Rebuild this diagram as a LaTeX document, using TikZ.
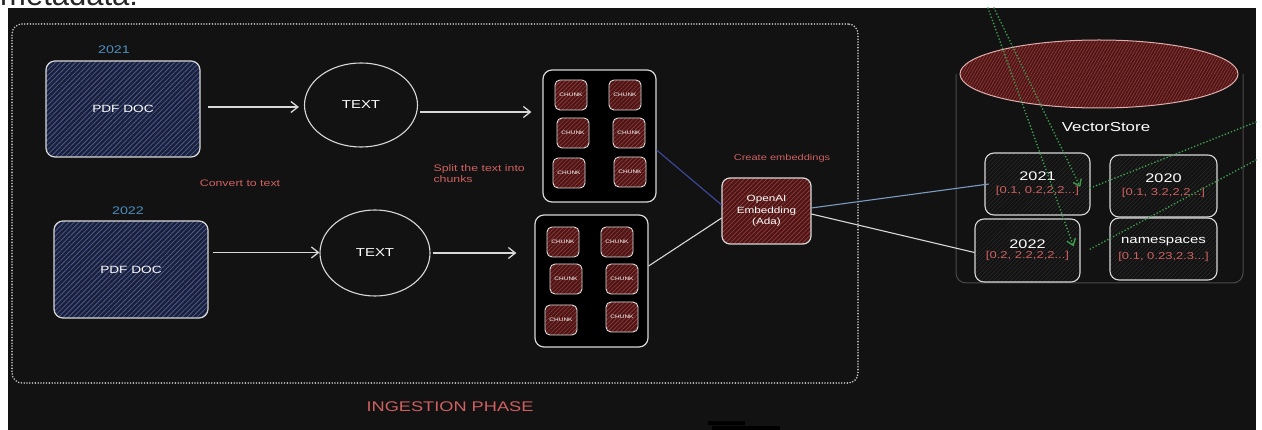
\documentclass[tikz,border=0pt]{standalone}
\usepackage{fontspec}
\setmainfont{Liberation Sans}
\newfontfamily\hand[FakeStretch=1.3]{Liberation Sans}
\usetikzlibrary{arrows.meta,patterns.meta,shapes.geometric}
\definecolor{bg}{HTML}{121212}
\definecolor{strokew}{HTML}{D8D8D8}
\definecolor{framec}{HTML}{C4C4C4}
\definecolor{bluelbl}{HTML}{4F8FC0}
\definecolor{navyfill}{HTML}{1A2038}
\definecolor{navyhatch}{HTML}{4A5A92}
\definecolor{redfill}{HTML}{4A1616}
\definecolor{redhatch}{HTML}{9A3A3A}
\definecolor{redtxt}{HTML}{D06060}
\definecolor{greenc}{HTML}{3C9A4E}
\definecolor{bluecon}{HTML}{3D4AA0}
\definecolor{lightblue}{HTML}{7A9AC0}
\definecolor{boxhatch}{HTML}{2C2C2C}
\definecolor{bodyc}{HTML}{4A4A4A}
\begin{document}
\begin{tikzpicture}[x=1pt,y=-1pt,
  pdfbox/.style={draw=strokew, line width=1.2pt, rounded corners=9pt,
    preaction={fill=navyfill}, pattern={Lines[angle=45,distance=3.5pt,line width=0.8pt]},
    pattern color=navyhatch, minimum width=154pt, minimum height=96pt, inner sep=0pt,
    text=white, font=\hand\fontsize{10.5}{12}\selectfont},
  yearlbl/.style={text=bluelbl, font=\hand\fontsize{11}{13}\selectfont},
  txtell/.style={ellipse, draw=strokew, line width=1.1pt, inner sep=0pt,
    text=white, font=\hand\fontsize{11.5}{12}\selectfont},
  arr/.style={draw=strokew, line width=1.5pt,
    -{Straight Barb[length=7pt,width=11pt,line width=1.3pt]}},
  group/.style={draw=strokew, line width=1.2pt, rounded corners=9pt, fill=black,
    minimum width=113pt, minimum height=132pt, inner sep=0pt},
  chunk/.style={draw=strokew!85, line width=0.9pt, rounded corners=5pt,
    preaction={fill=redfill}, pattern={Lines[angle=45,distance=3pt,line width=0.6pt]},
    pattern color=redhatch, minimum width=32pt, minimum height=30pt, inner sep=0pt,
    text=white, font=\hand\fontsize{5}{5}\selectfont},
  emb/.style={draw=strokew, line width=1.2pt, rounded corners=8pt,
    preaction={fill=redfill}, pattern={Lines[angle=45,distance=3.2pt,line width=0.7pt]},
    pattern color=redhatch, minimum width=89pt, minimum height=66pt, inner sep=0pt,
    align=center, text=white, font=\hand\fontsize{9}{11.5}\selectfont},
  redlbl/.style={text=redtxt, font=\hand\fontsize{9.5}{11}\selectfont},
  frame/.style={draw=framec, line width=1.8pt, dash pattern=on 0pt off 2.8pt,
    line cap=round, rounded corners=10pt, inner sep=0pt},
  vbox/.style={draw=strokew, line width=1.1pt, rounded corners=9pt,
    preaction={fill=bg}, pattern={Lines[angle=45,distance=3pt,line width=0.5pt]},
    pattern color=boxhatch, inner sep=0pt, align=center, text=white,
    font=\hand\fontsize{12.5}{14}\selectfont},
  vec/.style={},
  con/.style={line width=1.1pt},
  gline/.style={draw=greenc, line width=1.9pt, dash pattern=on 0pt off 3.3pt, line cap=round},
  gtip/.style={-{Straight Barb[length=6pt,width=9pt,line width=1.4pt]}}
]
\newcommand\vecfont{\fontsize{10}{10}\selectfont\color{redtxt}}
\useasboundingbox (0,0) rectangle (1262,430);
\fill[white] (0,0) rectangle (1262,430);
\node[anchor=base west, inner sep=0pt, text=black!85, font=\fontsize{31}{31}\selectfont] (meta) at (0,6) {metadata:};
\fill[bg] (8,8) rectangle (1256,430);

% ingestion frame
\node[frame, minimum width=846pt, minimum height=359pt] (phase) at (435,203.5) {};
\node[text=redtxt, font=\hand\fontsize{14}{15}\selectfont] (phaselbl) at (450,407) {INGESTION PHASE};

% PDF docs
\node[pdfbox] (pdf1) at (123,109) {PDF DOC};
\node[yearlbl] (y1) at (114,50) {2021};
\node[pdfbox, minimum height=97pt] (pdf2) at (131,269.5) {PDF DOC};
\node[yearlbl] (y2) at (128,211) {2022};
\node[redlbl] (conv) at (240,183) {Convert to text};

% text ellipses
\node[txtell, minimum width=113pt, minimum height=84pt] (t1) at (361,105) {TEXT};
\node[txtell, minimum width=110pt, minimum height=86pt] (t2) at (375,253) {TEXT};
\draw[arr] ([xshift=8pt,yshift=2pt]pdf1.east) -- ([xshift=-5pt,yshift=2pt]t1.west |- pdf1.east);
\draw[arr] ([xshift=4pt,yshift=17pt]pdf2.east) -- ([yshift=17pt]t2.west |- pdf2.east);

% chunk groups
\node[group] (c1) at (599.5,136) {};
\node[group] (c2) at (591.5,281) {};
\draw[arr] ([xshift=2pt,yshift=-7pt]t1.east) -- ([xshift=-11pt,yshift=-7pt]t1.east -| c1.west);
\draw[arr] ([xshift=2pt]t2.east) -- ([xshift=-18pt]t2.east -| c2.west);
\node[redlbl, anchor=north west, align=left, font=\hand\fontsize{9.5}{11}\selectfont] (split) at (430,161) {Split the text into\\chunks};

\node[chunk] (k11) at (571,95) {CHUNK};
\node[chunk] (k12) at (625,95) {CHUNK};
\node[chunk] (k13) at (573,133) {CHUNK};
\node[chunk] (k14) at (629,133) {CHUNK};
\node[chunk] (k15) at (569,173) {CHUNK};
\node[chunk] (k16) at (630,172) {CHUNK};
\node[chunk] (k21) at (563,242) {CHUNK};
\node[chunk] (k22) at (617,242) {CHUNK};
\node[chunk] (k23) at (566,279) {CHUNK};
\node[chunk] (k24) at (622,279) {CHUNK};
\node[chunk] (k25) at (561,320) {CHUNK};
\node[chunk] (k26) at (622,317) {CHUNK};

% embedding
\node[emb] (emb) at (766.5,211) {OpenAI\\Embedding\\(Ada)};
\node[redlbl, font=\hand\fontsize{8.5}{10}\selectfont] (embl) at (782,158) {Create embeddings};
\draw[con, bluecon] ([yshift=-14pt]c1.east) -- ([yshift=6pt]emb.west);
\draw[con, strokew] ([yshift=15pt]c2.east) -- ([yshift=-7pt]emb.west);

% vector store
\draw[bodyc, line width=1pt, rounded corners=10pt] (956,74) -- (956,283) -- (1243,283) -- (1243,74);
\node[ellipse, draw=strokew!80!red, line width=1pt, minimum width=278pt, minimum height=68pt,
  preaction={fill=redfill}, pattern={Lines[angle=60,distance=2.6pt,line width=0.6pt]},
  pattern color=redhatch] (vtop) at (1099,74) {};
\node[text=white, font=\hand\fontsize{13}{14}\selectfont] (vsl) at (1106,127) {VectorStore};

\node[vbox, minimum width=105pt, minimum height=62pt] (b21) at (1037.5,184)
  {2021\\[-1pt]{\vecfont [0.1, 0.2,2,2...]}};
\node[vbox, minimum width=107pt, minimum height=62pt] (b20) at (1163.5,186)
  {2020\\[-1pt]{\vecfont [0.1, 3.2,2,2...]}};
\node[vbox, minimum width=105pt, minimum height=63pt] (b22) at (1027.5,250.5)
  {2022\\[-4pt]{\vecfont [0.2, 2.2,2,2...]}};
\node[vbox, minimum width=107pt, minimum height=62pt, font=\hand\fontsize{11.5}{13}\selectfont] (bns) at (1163.5,249)
  {namespaces\\[3pt]{\vecfont [0.1, 0.23,2.3...]}};

\draw[con, lightblue] ([yshift=3pt]emb.east) -- ([xshift=4pt]b21.west);
\draw[con, strokew] ([yshift=-3pt]emb.east) -- ([yshift=-2pt]b22.west);

% green dotted lines
\coordinate (g1s) at (988,8);
\coordinate (g2s) at (994,8);
\coordinate (g3s) at (1256,122);
\coordinate (g4s) at (1256,160);
\draw[gline, gtip] (g1s) -- ([xshift=-7pt,yshift=-28pt]b22.north east);
\draw[gline, gtip] (g2s) -- ([xshift=-10pt,yshift=-3pt]b21.east);
\draw[gline] (g3s) -- ([yshift=-4pt]b21.east);
\draw[gline] (g4s) -- ([xshift=7pt]b22.east);

% dark smudge at bottom
\fill[black] (708,421) rectangle (745,425);
\fill[black] (712,426) rectangle (780,430);
\end{tikzpicture}
\end{document}
